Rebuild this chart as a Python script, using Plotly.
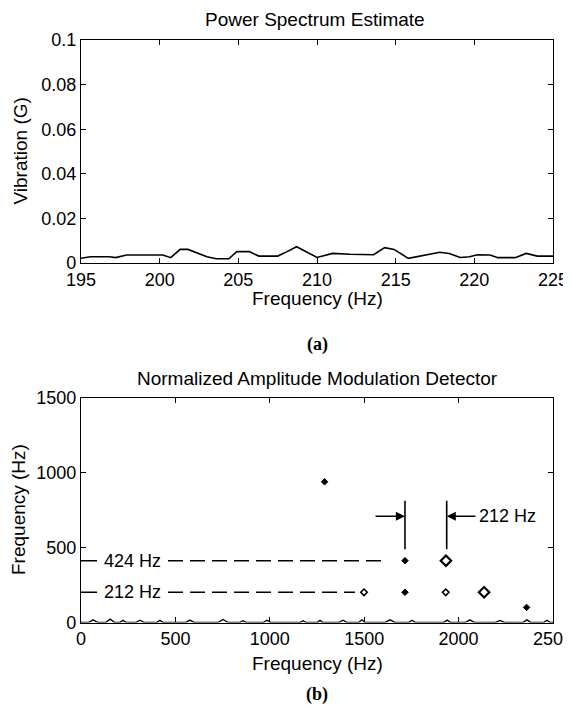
import plotly.graph_objects as go

# ---------------- data: (a) power spectrum ----------------
spec_freq = [195.0, 195.6, 196.8, 197.2, 197.9, 200.2, 200.7, 201.3, 201.8, 203.0,
             203.6, 204.4, 204.9, 205.7, 206.3, 207.5, 208.1, 208.7, 210.0, 211.0,
             212.1, 213.6, 214.3, 214.9, 215.8, 217.0, 217.8, 218.4, 219.1, 219.7,
             220.2, 221.0, 221.5, 222.6, 223.3, 224.0, 225.0]
spec_vib = [0.0021, 0.0028, 0.0028, 0.0024, 0.0036, 0.0036, 0.0024, 0.0061, 0.0061, 0.0028,
            0.0019, 0.0019, 0.0051, 0.0051, 0.0031, 0.0031, 0.0051, 0.0073, 0.0025, 0.0043,
            0.0039, 0.0037, 0.0069, 0.0061, 0.0021, 0.0039, 0.0048, 0.0043, 0.0025, 0.0028,
            0.0037, 0.0036, 0.0024, 0.0024, 0.0043, 0.0031, 0.0031]

# ---------------- data: (b) AM detector ----------------
base_freq = [0, 40, 64, 90, 130, 154, 180, 205, 222, 240,
             290, 312, 335, 400, 418, 436, 555, 577, 600, 725,
             752, 780, 840, 858, 876, 965, 985, 1005, 1160, 1176,
             1192, 1250, 1266, 1282, 1365, 1388, 1410, 1470, 1488, 1506,
             1610, 1637, 1665, 1735, 1753, 1771, 1920, 1939, 1958, 2035,
             2060, 2085, 2195, 2219, 2243, 2340, 2362, 2384, 2450, 2468,
             2486, 2500]
base_mod = [0, 0, 18, 0, 0, 22, 0, 0, 14, 0,
            0, 15, 0, 0, 14, 0, 0, 16, 0, 0,
            20, 0, 0, 12, 0, 0, 15, 0, 0, 12,
            0, 0, 14, 0, 0, 15, 0, 0, 18, 0,
            0, 18, 0, 0, 15, 0, 0, 16, 0, 0,
            18, 0, 0, 14, 0, 0, 18, 0, 0, 15,
            0, 0]

solid_peak_freq = [1290, 1716, 1716, 2360]
solid_peak_mod = [940, 413, 202, 101]
small_ring_freq = [1499, 1932]
small_ring_mod = [202, 202]
big_ring_freq = [1933, 2135]
big_ring_mod = [413, 202]

harmonic_labels = ["424 Hz", "212 Hz"]
harmonic_mod = [413, 202]
harmonic_dash_end = [1621, 1451]

spacing_freq = [1716, 1937]
spacing_span = [489, 814]
spacing_arrow_mod = 710
spacing_label = "212 Hz"

a_xticks = [195, 200, 205, 210, 215, 220, 225]
a_yticks = [0, 0.02, 0.04, 0.06, 0.08, 0.1]
b_xticks = [0, 500, 1000, 1500, 2000, 2500]
b_yticks = [0, 500, 1000, 1500]

FONT = "Liberation Sans, Arial, sans-serif"
SERIF = "Liberation Serif, Times New Roman, serif"
BLACK = "#000000"

# page body has an 8px margin: figure drawn at (8, 8)
OFF = 8
W, H = 571 - OFF, 711 - OFF


def fx(px):
    return (px - OFF) / W


def fy(py):
    return 1 - (py - OFF) / H


fig = go.Figure()

fig.add_trace(go.Scatter(x=spec_freq, y=spec_vib, mode="lines",
                         line=dict(color=BLACK, width=1.6),
                         xaxis="x", yaxis="y", showlegend=False))

fig.add_trace(go.Scatter(x=base_freq, y=base_mod, mode="lines",
                         line=dict(color=BLACK, width=1.4),
                         xaxis="x2", yaxis="y2", showlegend=False))

fig.add_trace(go.Scatter(x=solid_peak_freq, y=solid_peak_mod, mode="markers",
                         marker=dict(symbol="diamond", size=5, color=BLACK,
                                     line=dict(color=BLACK, width=1)),
                         xaxis="x2", yaxis="y2", showlegend=False))
fig.add_trace(go.Scatter(x=small_ring_freq, y=small_ring_mod, mode="markers",
                         marker=dict(symbol="diamond-open", size=5, color=BLACK,
                                     line=dict(color=BLACK, width=1.6)),
                         xaxis="x2", yaxis="y2", showlegend=False))
fig.add_trace(go.Scatter(x=big_ring_freq, y=big_ring_mod, mode="markers",
                         marker=dict(symbol="diamond-open", size=8, color=BLACK,
                                     line=dict(color=BLACK, width=2.2)),
                         xaxis="x2", yaxis="y2", showlegend=False))

# harmonic markers: short solid tick, label, dashed leader
for lab, m, end in zip(harmonic_labels, harmonic_mod, harmonic_dash_end):
    fig.add_trace(go.Scatter(x=[b_xticks[0], 85], y=[m, m], mode="lines",
                             line=dict(color=BLACK, width=1.4),
                             xaxis="x2", yaxis="y2", showlegend=False))
    fig.add_trace(go.Scatter(x=[461, end], y=[m, m], mode="lines",
                             line=dict(color=BLACK, width=1.4, dash="15px,7px"),
                             xaxis="x2", yaxis="y2", showlegend=False))
    fig.add_annotation(x=273, y=m, xref="x2", yref="y2", text=lab, showarrow=False,
                       font=dict(family=FONT, size=18, color=BLACK),
                       xanchor="center", yanchor="middle")

for f in spacing_freq:
    fig.add_trace(go.Scatter(x=[f, f], y=spacing_span, mode="lines",
                             line=dict(color=BLACK, width=1.6),
                             xaxis="x2", yaxis="y2", showlegend=False))

fig.add_annotation(x=spacing_freq[0], y=spacing_arrow_mod, xref="x2", yref="y2",
                   ax=1552, ay=spacing_arrow_mod, axref="x2", ayref="y2",
                   showarrow=True, arrowhead=2, arrowsize=1.3, arrowwidth=1.4,
                   arrowcolor=BLACK, text="")
fig.add_annotation(x=spacing_freq[1], y=spacing_arrow_mod, xref="x2", yref="y2",
                   ax=2097, ay=spacing_arrow_mod, axref="x2", ayref="y2",
                   showarrow=True, arrowhead=2, arrowsize=1.3, arrowwidth=1.4,
                   arrowcolor=BLACK, text="")
fig.add_annotation(x=2100, y=spacing_arrow_mod, xref="x2", yref="y2", text=spacing_label,
                   showarrow=False, xanchor="left", yanchor="middle",
                   font=dict(family=FONT, size=18, color=BLACK))

axis_common = dict(showline=True, linecolor=BLACK, linewidth=1.3, mirror="ticks",
                   ticks="inside", ticklen=5, tickwidth=1, tickcolor=BLACK,
                   showgrid=False, zeroline=False, automargin=False,
                   ticklabeloverflow="allow",
                   tickfont=dict(family=FONT, size=18, color=BLACK))

dom_x = [fx(81), fx(553)]
fig.update_layout(
    template="none",
    width=W, height=H,
    margin=dict(l=0, r=0, t=0, b=0, pad=0, autoexpand=False),
    paper_bgcolor="white", plot_bgcolor="white",
    showlegend=False,
    xaxis=dict(domain=dom_x, range=[195, 225], tickvals=a_xticks, anchor="y", **axis_common),
    yaxis=dict(domain=[fy(263), fy(40)], range=[0, 0.1], tickvals=a_yticks,
               ticktext=[str(v) for v in a_yticks], anchor="x", **axis_common),
    xaxis2=dict(domain=dom_x, range=[0, 2500], tickvals=b_xticks, anchor="y2", **axis_common),
    yaxis2=dict(domain=[fy(622.5), fy(398)], range=[0, 1500], tickvals=b_yticks,
                anchor="x2", **axis_common),
)


def paper_text(text, px, py, size=18, angle=0, family=FONT, bold=False):
    t = f"<b>{text}</b>" if bold else text
    fig.add_annotation(x=fx(px), y=fy(py), xref="paper", yref="paper", text=t,
                       showarrow=False, xanchor="center", yanchor="middle", textangle=angle,
                       font=dict(family=family, size=size, color=BLACK))


paper_text("Power Spectrum Estimate", 315, 20, size=19)
paper_text("Frequency (Hz)", 317, 298, size=19)
paper_text("Vibration (G)", 20, 151.5, angle=-90, size=19)
paper_text("(a)", 317, 345, family=SERIF, bold=True)
paper_text("Normalized Amplitude Modulation Detector", 317, 378, size=19)
paper_text("Frequency (Hz)", 317, 663, size=19)
paper_text("Frequency (Hz)", 18, 510, angle=-90, size=19)
paper_text("(b)", 317, 694, family=SERIF, bold=True)

fig.write_html("out.html")
